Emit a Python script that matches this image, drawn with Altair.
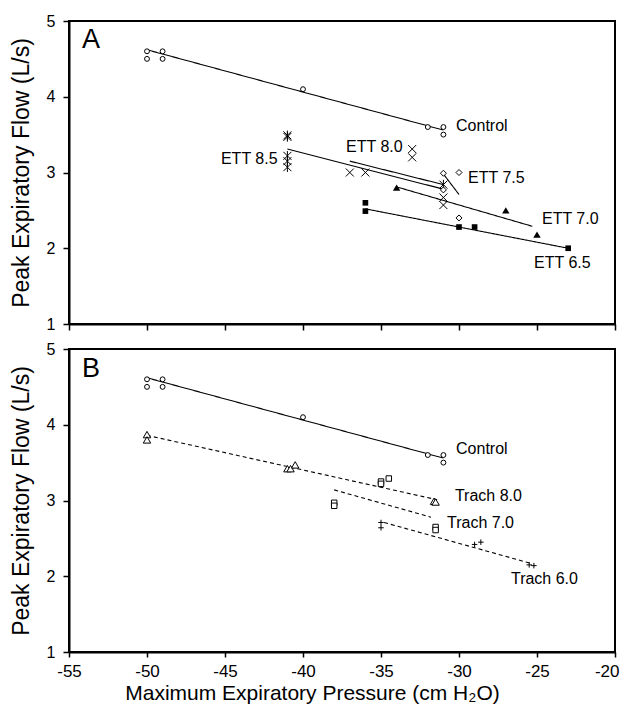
import altair as alt
import pandas as pd

FONT = "Liberation Sans"
X_DOMAIN = [-55, -20]
Y_DOMAIN = [1, 5]
X_TICKS = [-55, -50, -45, -40, -35, -30, -25, -20]
Y_TICKS = [1, 2, 3, 4, 5]

# ---------- Panel A data ----------
ctrl_x = [-50, -50, -49, -49, -40, -32, -31, -31]
ctrl_y = [4.6, 4.5, 4.6, 4.5, 4.1, 3.6, 3.6, 3.5]
ctrl_line_x = [-50, -31]
ctrl_line_y = [4.62, 3.56]

ett85_x = [-41, -41, -41, -41, -41, -31]
ett85_y = [3.49, 3.47, 3.22, 3.15, 3.07, 2.84]
ett85_line_x = [-41, -31]
ett85_line_y = [3.31, 2.78]

ett80_x = [-37, -36, -33, -33, -31, -31]
ett80_y = [3.0, 3.0, 3.31, 3.2, 2.67, 2.57]
ett80_line_x = [-37, -31]
ett80_line_y = [3.15, 2.84]

ett75_x = [-31, -30, -31, -30]
ett75_y = [2.99, 3.0, 2.77, 2.4]
ett75_line_x = [-31, -30]
ett75_line_y = [2.98, 2.71]

ett70_x = [-34, -27, -25]
ett70_y = [2.8, 2.5, 2.18]
ett70_line_x = [-34, -25.3]
ett70_line_y = [2.81, 2.29]

ett65_x = [-36, -36, -30, -29, -23]
ett65_y = [2.6, 2.49, 2.28, 2.28, 2.0]
ett65_line_x = [-36, -23]
ett65_line_y = [2.52, 2.0]

# ---------- Panel B data ----------
tr80_x = [-50, -50, -41, -40.8, -40.5, -31.6, -31.5]
tr80_y = [3.87, 3.8, 3.42, 3.42, 3.47, 2.99, 2.98]
tr80_line_x = [-50, -31.4]
tr80_line_y = [3.86, 3.01]

tr70_x = [-38, -38, -35, -35, -34.5, -31.5, -31.5]
tr70_y = [2.97, 2.93, 3.25, 3.22, 3.29, 2.65, 2.61]
tr70_line_x = [-38, -31.8]
tr70_line_y = [3.14, 2.78]

tr60_x = [-35, -35, -29, -28.6, -25.5, -25.2]
tr60_y = [2.71, 2.64, 2.42, 2.45, 2.15, 2.14]
tr60_line_x = [-34.8, -25.4]
tr60_line_y = [2.71, 2.17]

# ---------- Labels ----------
labelsA_text = ["Control", "ETT 8.0", "ETT 7.5", "ETT 7.0", "ETT 6.5", "ETT 8.5"]
labelsA_x = [-30.19, -37.24, -29.42, -24.68, -25.19, -45.26]
labelsA_y = [3.614, 3.34, 2.93, 2.386, 1.805, 3.18]

labelsB_text = ["Control", "Trach 8.0", "Trach 7.0", "Trach 6.0"]
labelsB_x = [-30.19, -30.26, -30.77, -26.67]
labelsB_y = [3.675, 3.057, 2.709, 1.967]

panel_letters = ["A", "B"]
letter_x = [-54.17, -54.17]
letter_y = [4.75, 4.735]

# ---------- marker styles ----------
PATH_X = "M-1,-1L1,1M-1,1L1,-1"
PATH_STAR = "M-1,-1L1,1M-1,1L1,-1M0,-1.2L0,1.2"
PATH_PLUS = "M-1,0L1,0M0,-1L0,1"
CLOSED = ("circle", "diamond", "square", "triangle-up")

seriesA = [
    ("Control", ctrl_x, ctrl_y, ctrl_line_x, ctrl_line_y, "circle", False, 24, False),
    ("ETT 8.5", ett85_x, ett85_y, ett85_line_x, ett85_line_y, PATH_STAR, False, 64, False),
    ("ETT 8.0", ett80_x, ett80_y, ett80_line_x, ett80_line_y, PATH_X, False, 64, False),
    ("ETT 7.5", ett75_x, ett75_y, ett75_line_x, ett75_line_y, "diamond", False, 36, False),
    ("ETT 7.0", ett70_x, ett70_y, ett70_line_x, ett70_line_y, "triangle-up", True, 55, False),
    ("ETT 6.5", ett65_x, ett65_y, ett65_line_x, ett65_line_y, "square", True, 32, False),
]
seriesB = [
    ("Control", ctrl_x, ctrl_y, ctrl_line_x, ctrl_line_y, "circle", False, 24, False),
    ("Trach 8.0", tr80_x, tr80_y, tr80_line_x, tr80_line_y, "triangle-up", False, 55, True),
    ("Trach 7.0", tr70_x, tr70_y, tr70_line_x, tr70_line_y, "square", False, 30, True),
    ("Trach 6.0", tr60_x, tr60_y, tr60_line_x, tr60_line_y, PATH_PLUS, False, 30, True),
]

LAST_TICK = X_TICKS[-1]


def make_panel(series, lab_text, lab_x, lab_y, letter, lx, ly, bottom):
    if bottom:
        x_axis = alt.Axis(
            values=X_TICKS, labelExpr="'' + datum.value", tickSize=5,
            labelPadding=6, labelFontSize=17, labelFlush=False,
            labelAlign={"condition": {"test": f"datum.value == {LAST_TICK}", "value": "right"},
                        "value": "center"},
            labelOffset={"condition": {"test": f"datum.value == {LAST_TICK}", "value": 4},
                         "value": 0},
            title="Maximum Expiratory Pressure (cm H\u2082O)",
            titleFontSize=21, titleFontWeight="normal",
            titleX=243, titleY=47, titleBaseline="alphabetic",
            titleAlign="center")
    else:
        x_axis = alt.Axis(values=X_TICKS, labels=False, tickSize=6, title=None)
    y_axis = alt.Axis(values=Y_TICKS, labelExpr="'' + datum.value", tickSize=6,
                      labelPadding=8, labelFontSize=16,
                      title="Peak Expiratory Flow (L/s)", titleFontSize=23,
                      titleFontWeight="normal", titlePadding=13)
    xenc = alt.X("x:Q", scale=alt.Scale(domain=X_DOMAIN, nice=False, zero=False), axis=x_axis)
    yenc = alt.Y("y:Q", scale=alt.Scale(domain=Y_DOMAIN, nice=False, zero=False), axis=y_axis)

    layers = []
    for name, xs, ys, lx_, ly_, shape, filled, size, dashed in series:
        ldf = pd.DataFrame({"x": lx_, "y": ly_})
        line = alt.Chart(ldf).mark_line(color="black", strokeWidth=1.1,
                                         strokeDash=[4, 3] if dashed else [1, 0]).encode(
            x=xenc, y=yenc)
        layers.append(line)
    for name, xs, ys, lx_, ly_, shape, filled, size, dashed in series:
        pdf = pd.DataFrame({"x": xs, "y": ys})
        if filled:
            pt = alt.Chart(pdf).mark_point(shape=shape, filled=True, color="black",
                                           size=size, opacity=1)
        else:
            closed = shape in CLOSED
            pt = alt.Chart(pdf).mark_point(shape=shape, filled=False, stroke="black",
                                           fill="white" if closed else "transparent",
                                           fillOpacity=1 if closed else 0,
                                           strokeWidth=1, size=size, opacity=1)
        layers.append(pt.encode(x=xenc, y=yenc))
    tdf = pd.DataFrame({"x": lab_x, "y": lab_y, "t": lab_text})
    layers.append(alt.Chart(tdf).mark_text(align="left", baseline="middle", fontSize=16,
                                            font=FONT, color="black").encode(
        x=xenc, y=yenc, text="t:N"))
    ldf2 = pd.DataFrame({"x": [lx], "y": [ly], "t": [letter]})
    layers.append(alt.Chart(ldf2).mark_text(align="left", baseline="middle", fontSize=27,
                                             font=FONT, color="black").encode(
        x=xenc, y=yenc, text="t:N"))
    return alt.layer(*layers).properties(width=546, height=303)


pA = make_panel(seriesA, labelsA_text, labelsA_x, labelsA_y, panel_letters[0],
                letter_x[0], letter_y[0], False)
pB = make_panel(seriesB, labelsB_text, labelsB_x, labelsB_y, panel_letters[1],
                letter_x[1], letter_y[1], True)

chart = alt.vconcat(pA, pB, spacing=25, bounds="flush").properties(
    padding={"left": 1, "top": 4, "right": 0, "bottom": 0},
    background="white",
).configure_view(
    stroke="black", strokeWidth=2
).configure_axis(
    grid=False, domainColor="black", domainWidth=2, tickColor="black", tickWidth=1.5,
    labelColor="black", titleColor="black", labelFont=FONT, titleFont=FONT
).configure_text(font=FONT)

chart.save("out.html", embed_options={"renderer": "svg", "actions": False})
